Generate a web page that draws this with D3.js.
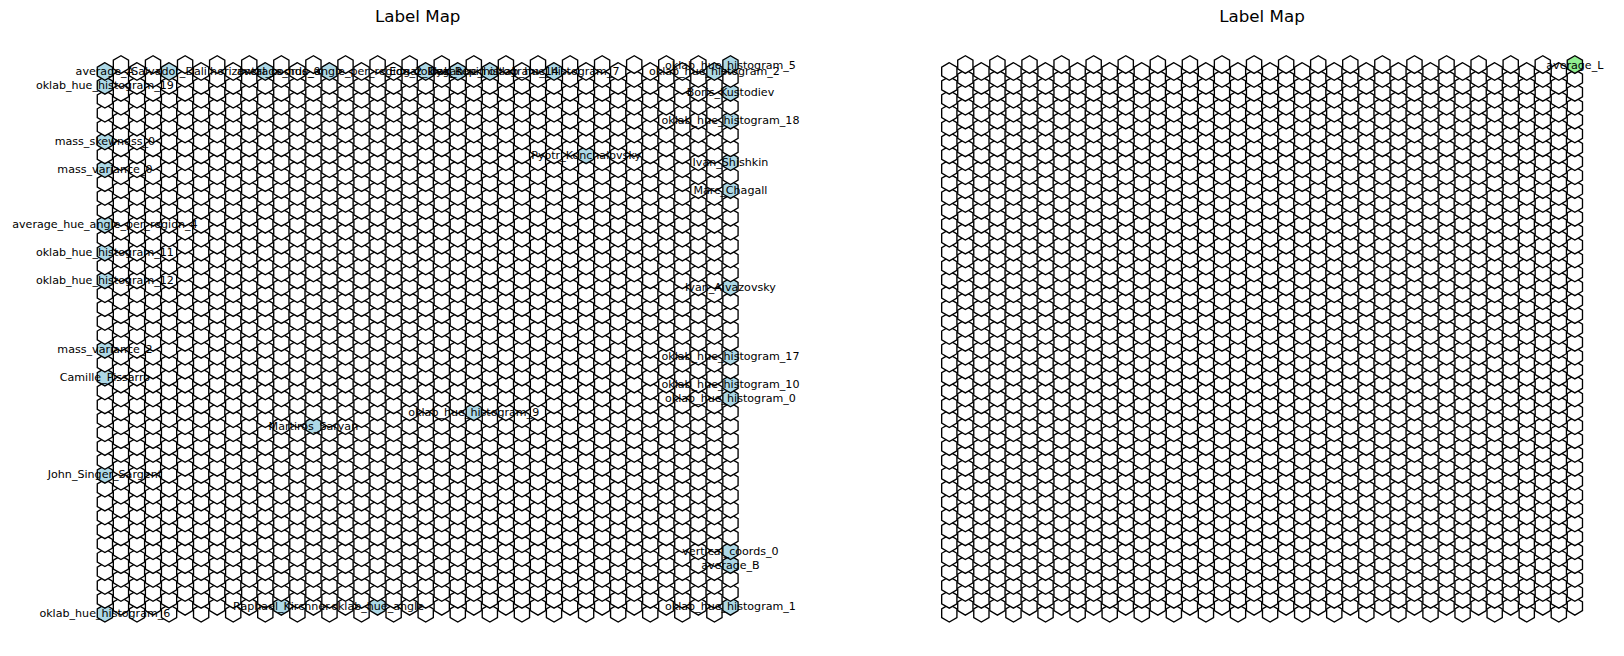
<!DOCTYPE html>
<html>
<head>
<meta charset="utf-8">
<script src="https://cdn.jsdelivr.net/npm/d3@7"></script>
<style>
  html, body { margin: 0; padding: 0; background: #ffffff; }
  svg { display: block; }
  text { font-family: "DejaVu Sans", sans-serif; }
</style>
</head>
<body>
<svg id="chart" width="1624" height="656"></svg>
<script>
// ---- data ----
const gridCols = 40;
const gridRows = 40;
const titles = ["Label Map", "Label Map"];

// left map labelled nodes
const leftNames = [
  "average_A", "Salvador_Dali", "horizontal_coords_0", "average_hue_angle_per_region_2",
  "Edgar_Degas", "Ilya_Repin", "oklab_hue_histogram_14", "oklab_hue_histogram_7",
  "oklab_hue_histogram_2", "oklab_hue_histogram_5",
  "oklab_hue_histogram_19", "mass_skewness_0", "mass_variance_0",
  "average_hue_angle_per_region_4", "oklab_hue_histogram_11", "oklab_hue_histogram_12",
  "mass_variance_2", "Camille_Pissarro", "John_Singer_Sargent", "oklab_hue_histogram_6",
  "Martiros_Saryan", "oklab_hue_histogram_9", "Pyotr_Konchalovsky",
  "Raphael_Kirchner", "oklab_hue_angle",
  "Boris_Kustodiev", "oklab_hue_histogram_18", "Ivan_Shishkin", "Marc_Chagall",
  "Ivan_Aivazovsky", "oklab_hue_histogram_17", "oklab_hue_histogram_10",
  "oklab_hue_histogram_0", "vertical_coords_0", "average_B", "oklab_hue_histogram_1"
];
const leftCols = [
  0, 4, 10, 14,
  20, 22, 24, 28,
  38, 39,
  0, 0, 0,
  0, 0, 0,
  0, 0, 0, 0,
  13, 23, 30,
  11, 17,
  39, 39, 39, 39,
  39, 39, 39,
  39, 39, 39, 39
];
const leftRows = [
  0, 0, 0, 0,
  0, 0, 0, 0,
  0, 0,
  1, 5, 7,
  11, 13, 15,
  20, 22, 29, 39,
  26, 25, 6,
  39, 39,
  2, 4, 7, 9,
  16, 21, 23,
  24, 35, 36, 39
];

// right map labelled nodes
const rightNames = ["average_L"];
const rightCols = [39];
const rightRows = [0];

// ---- drawing ----
const svg = d3.select("#chart");
const unit = 16.04;                       // px per SOM unit (equal aspect)
const rowStep = unit * Math.sqrt(3) / 2;  // vertical pitch
const radius = 0.95 / Math.sqrt(3) * unit;

const panels = [
  { x0: 104.9, title: titles[0], names: leftNames, cols: leftCols, rows: leftRows, fill: "#add8e6", titleX: 417.7 },
  { x0: 949.3, title: titles[1], names: rightNames, cols: rightCols, rows: rightRows, fill: "#90ee90", titleX: 1262 }
];

const yTop = 71.5;

const hexPts = d3.range(6).map(k => {
  const a = Math.PI / 2 + k * Math.PI / 3;
  return [radius * Math.cos(a), -radius * Math.sin(a)];
});
const hexPath = "M" + hexPts.map(p => p[0].toFixed(3) + "," + p[1].toFixed(3)).join("L") + "Z";

panels.forEach(p => {
  const x = d3.scaleLinear().domain([0, gridCols - 1]).range([p.x0, p.x0 + (gridCols - 1) * unit]);
  const y = d3.scaleLinear().domain([0, gridRows - 1]).range([yTop, yTop + (gridRows - 1) * rowStep]);
  const cy = (c, r) => y(r) - (c % 2 === 1 ? rowStep / 2 : 0);

  const labelled = new Map();
  p.names.forEach((n, i) => labelled.set(p.cols[i] + "_" + p.rows[i], n));

  const cells = [];
  for (let c = 0; c < gridCols; c++) {
    for (let r = gridRows - 1; r >= 0; r--) {
      cells.push({ c, r });
    }
  }
  const g = svg.append("g");
  g.selectAll("path.hex").data(cells).join("path")
    .attr("class", "hex")
    .attr("d", hexPath)
    .attr("transform", d => `translate(${x(d.c)},${cy(d.c, d.r)})`)
    .attr("fill", d => labelled.has(d.c + "_" + d.r) ? p.fill : "#ffffff")
    .attr("stroke", "#000")
    .attr("stroke-width", 1.35)
    .attr("stroke-linejoin", "miter");

  const labs = p.names.map((n, i) => ({ n, c: p.cols[i], r: p.rows[i] }));
  g.selectAll("text.lab").data(labs).join("text")
    .attr("class", "lab")
    .attr("x", d => x(d.c))
    .attr("y", d => cy(d.c, d.r))
    .attr("dy", "0.36em")
    .attr("text-anchor", "middle")
    .attr("font-size", "11.1px")
    .attr("fill", "#000")
    .text(d => d.n);

  svg.append("text")
    .attr("x", p.titleX)
    .attr("y", 21.7)
    .attr("text-anchor", "middle")
    .attr("font-size", "16.7px")
    .attr("fill", "#000")
    .text(p.title);
});
</script>
</body>
</html>
